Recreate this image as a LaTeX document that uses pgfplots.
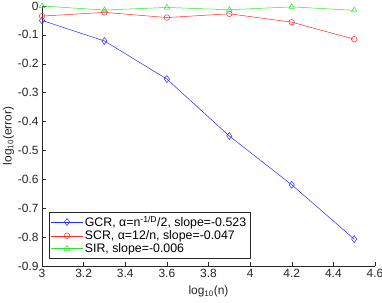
\documentclass[border=0pt]{standalone}
\usepackage{pgfplots}
\pgfplotsset{compat=1.18}
\usepackage{fontspec}
\setmainfont{Liberation Sans}
\definecolor{axgray}{RGB}{38,38,38}
\definecolor{mblue}{RGB}{40,40,255}
\definecolor{mred}{RGB}{255,40,40}
\definecolor{mgreen}{RGB}{40,230,40}
\begin{document}
\begin{tikzpicture}
\begin{axis}[
  scale only axis,
  width=333bp, height=260bp,
  xmin=3, xmax=4.6, ymin=-0.9, ymax=0,
  xtick={3,3.2,...,4.6},
  ytick={-0.9,-0.8,...,0.01},
  axis x line*=bottom, axis y line*=left,
  axis line style={axgray, line width=0.4pt},
  tick style={axgray, line width=0.4pt},
  tick align=inside,
  major tick length=3.5bp,
  tick label style={font=\fontsize{12}{13}\selectfont, text=axgray},
  /pgf/number format/assume math mode=true,
  xlabel={log\textsubscript{10}(n)},
  ylabel={log\textsubscript{10}(error)},
  label style={font=\fontsize{12}{13}\selectfont, text=axgray},
  xlabel style={yshift=-1bp},
  ylabel style={yshift=-3bp},
  clip=false,
  legend cell align=left,
  legend style={at={(0.021,0.031)}, anchor=south west, font=\fontsize{12.4}{13}\selectfont,
    draw=axgray, line width=0.4pt, inner xsep=2pt, inner ysep=1.8pt, row sep=-1.5pt},
  legend image code/.code={
    \draw[#1] (-0.05cm,0cm) -- (1.05cm,0cm);
    \draw[#1, only marks] plot coordinates {(0.5cm,0cm)};
  },
]
\addplot[mblue, line width=0.5pt, mark=diamond, mark size=3.5bp] coordinates {
(3,-0.050) (3.3,-0.121) (3.6,-0.253) (3.9,-0.450) (4.2,-0.619) (4.5,-0.807)};
\addlegendentry{GCR, α=n\textsuperscript{-1/D}/2, slope=-0.523}
\addplot[mred, line width=0.5pt, mark=o, mark size=2.8bp] coordinates {
(3,-0.035) (3.3,-0.022) (3.6,-0.040) (3.9,-0.027) (4.2,-0.056) (4.5,-0.115)};
\addlegendentry{SCR, α=12/n, slope=-0.047}
\addplot[mgreen, line width=0.5pt, mark=triangle, mark size=3.2bp] coordinates {
(3,0.000) (3.3,-0.014) (3.6,-0.005) (3.9,-0.013) (4.2,-0.003) (4.5,-0.015)};
\addlegendentry{SIR, slope=-0.006}
\end{axis}
\pgfresetboundingbox
\path (current axis.south west) ++(-42bp,-37bp) coordinate (bl);
\path (current axis.north east) ++(7bp,6bp) coordinate (tr);
\path[use as bounding box] (bl) rectangle (tr);
\end{tikzpicture}
\end{document}
